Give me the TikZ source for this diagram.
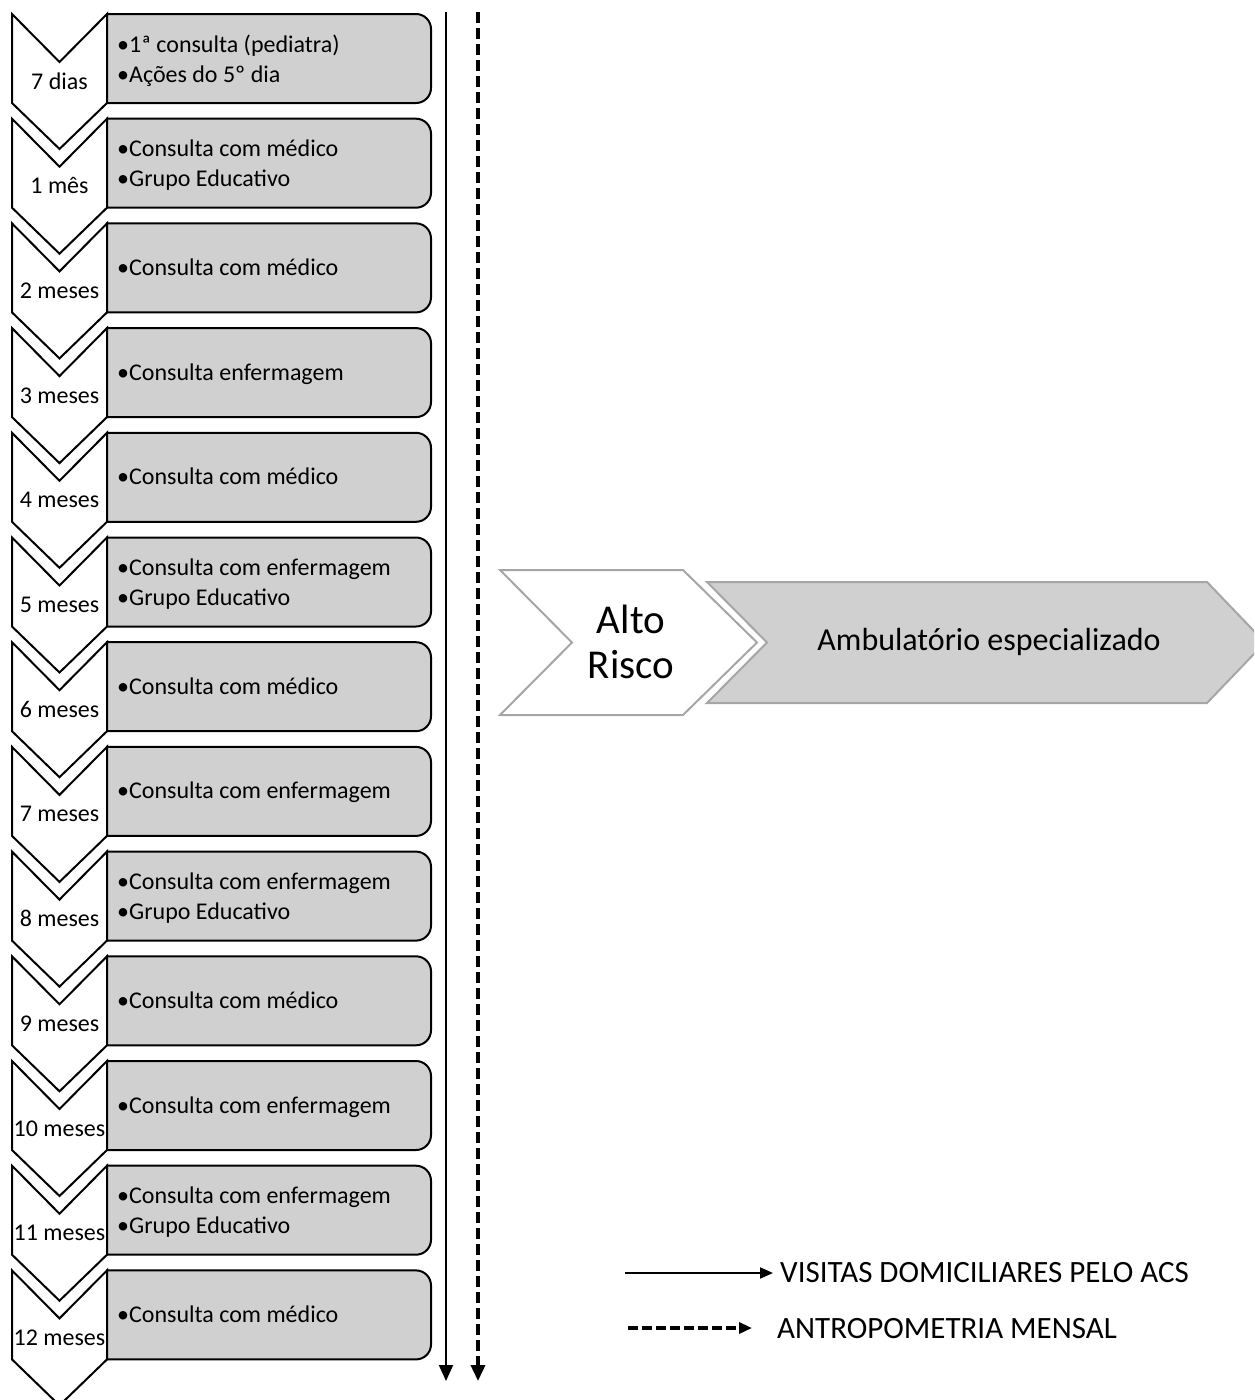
\documentclass[tikz,border=0pt]{standalone}
\usepackage{fontspec}
\setmainfont{Carlito}
\usetikzlibrary{arrows.meta}
\definecolor{boxgray}{HTML}{D0D0D0}
\definecolor{edgegray}{HTML}{A6A6A6}
\begin{document}
\begin{tikzpicture}[x=1pt,y=-1pt,
  chev/.style={draw=black,fill=white,line width=2pt,line join=miter},
  stagebox/.style={draw=black,fill=boxgray,line width=2pt},
  lbl/.style={font=\fontsize{24}{29}\selectfont,inner sep=0pt,anchor=base},
  itm/.style={font=\fontsize{24}{31}\selectfont,inner sep=0pt,anchor=base west},
  bigchev/.style={draw=edgegray,line width=2pt,line join=miter},
  flow/.style={line width=2pt,-{Triangle[length=16pt,width=14pt]}},
  flowdash/.style={line width=3.5pt,dash pattern=on 11pt off 5pt,-{Triangle[length=16pt,width=14pt]}},
  legtxt/.style={font=\fontsize{31}{36}\selectfont,inner sep=0pt,anchor=west},
]
\useasboundingbox (0,0) rectangle (1254,1400);
\clip (0,0) rectangle (1254,1400);

\def\none{-}
\foreach \i/\lab/\itA/\itB in {
  0/7 dias/{1ª consulta (pediatra)}/{Ações do 5º dia},
  1/1 mês/{Consulta com médico}/{Grupo Educativo},
  2/2 meses/{Consulta com médico}/-,
  3/3 meses/{Consulta enfermagem}/-,
  4/4 meses/{Consulta com médico}/-,
  5/5 meses/{Consulta com enfermagem}/{Grupo Educativo},
  6/6 meses/{Consulta com médico}/-,
  7/7 meses/{Consulta com enfermagem}/-,
  8/8 meses/{Consulta com enfermagem}/{Grupo Educativo},
  9/9 meses/{Consulta com médico}/-,
  10/10 meses/{Consulta com enfermagem}/-,
  11/11 meses/{Consulta com enfermagem}/{Grupo Educativo},
  12/12 meses/{Consulta com médico}/-}{
  \pgfmathsetmacro{\t}{14+104.7*\i}
  \pgfmathsetmacro{\tb}{\t+89}
  \draw[chev] (12,\t) -- (59.5,\t+48) -- (107,\t) -- (107,\tb) -- (59.5,\tb+46) -- (12,\tb) -- cycle;
  \draw[stagebox] (107,\t) -- (416,\t) arc[start angle=270,end angle=360,radius=15]
     -- (431,\tb-15) arc[start angle=0,end angle=90,radius=15] -- (107,\tb) -- cycle;
  \node[lbl] (lab\i) at (59.5,\t+75) {\lab};
  \ifx\itB\none
    \node[itm] (ia\i) at (117,\t+52) {•\itA};
  \else
    \node[itm] (ia\i) at (117,\t+38) {•\itA};
    \node[itm] (ib\i) at (117,\t+68) {•\itB};
  \fi
}

% vertical flows
\coordinate (vs1) at (446,12);
\coordinate (ve1) at (446,1381);
\coordinate (vs2) at (478,12);
\coordinate (ve2) at (478,1381);
\draw[flow] (vs1) -- (ve1);
\draw[flowdash] (vs2) -- (ve2);

% Alto risco
\draw[bigchev,fill=boxgray] (707,582) -- (1207,582) -- (1265,642.5) -- (1207,703) -- (707,703) -- (767,642.5) -- cycle;
\draw[bigchev,fill=white] (500,570) -- (683,570) -- (757,642.5) -- (683,715) -- (500,715) -- (572,642.5) -- cycle;
\node[font=\fontsize{41}{45}\selectfont,align=center,inner sep=0pt] (alto) at (631,642) {Alto\\Risco};
\node[font=\fontsize{32}{38}\selectfont,inner sep=0pt] (amb) at (989,642) {Ambulatório especializado};

% legend
\coordinate (l1a) at (625,1273);
\coordinate (l1b) at (773,1273);
\coordinate (l2a) at (628,1328);
\coordinate (l2b) at (752,1328);
\draw[line width=2pt,-{Triangle[length=13pt,width=11pt]}] (l1a) -- (l1b);
\draw[line width=3.5pt,dash pattern=on 10pt off 4pt,-{Triangle[length=13pt,width=11pt]}] (l2a) -- (l2b);
\node[legtxt] (leg1) at (780,1273) {VISITAS DOMICILIARES PELO ACS};
\node[legtxt] (leg2) at (777,1329) {ANTROPOMETRIA MENSAL};
\end{tikzpicture}
\end{document}
